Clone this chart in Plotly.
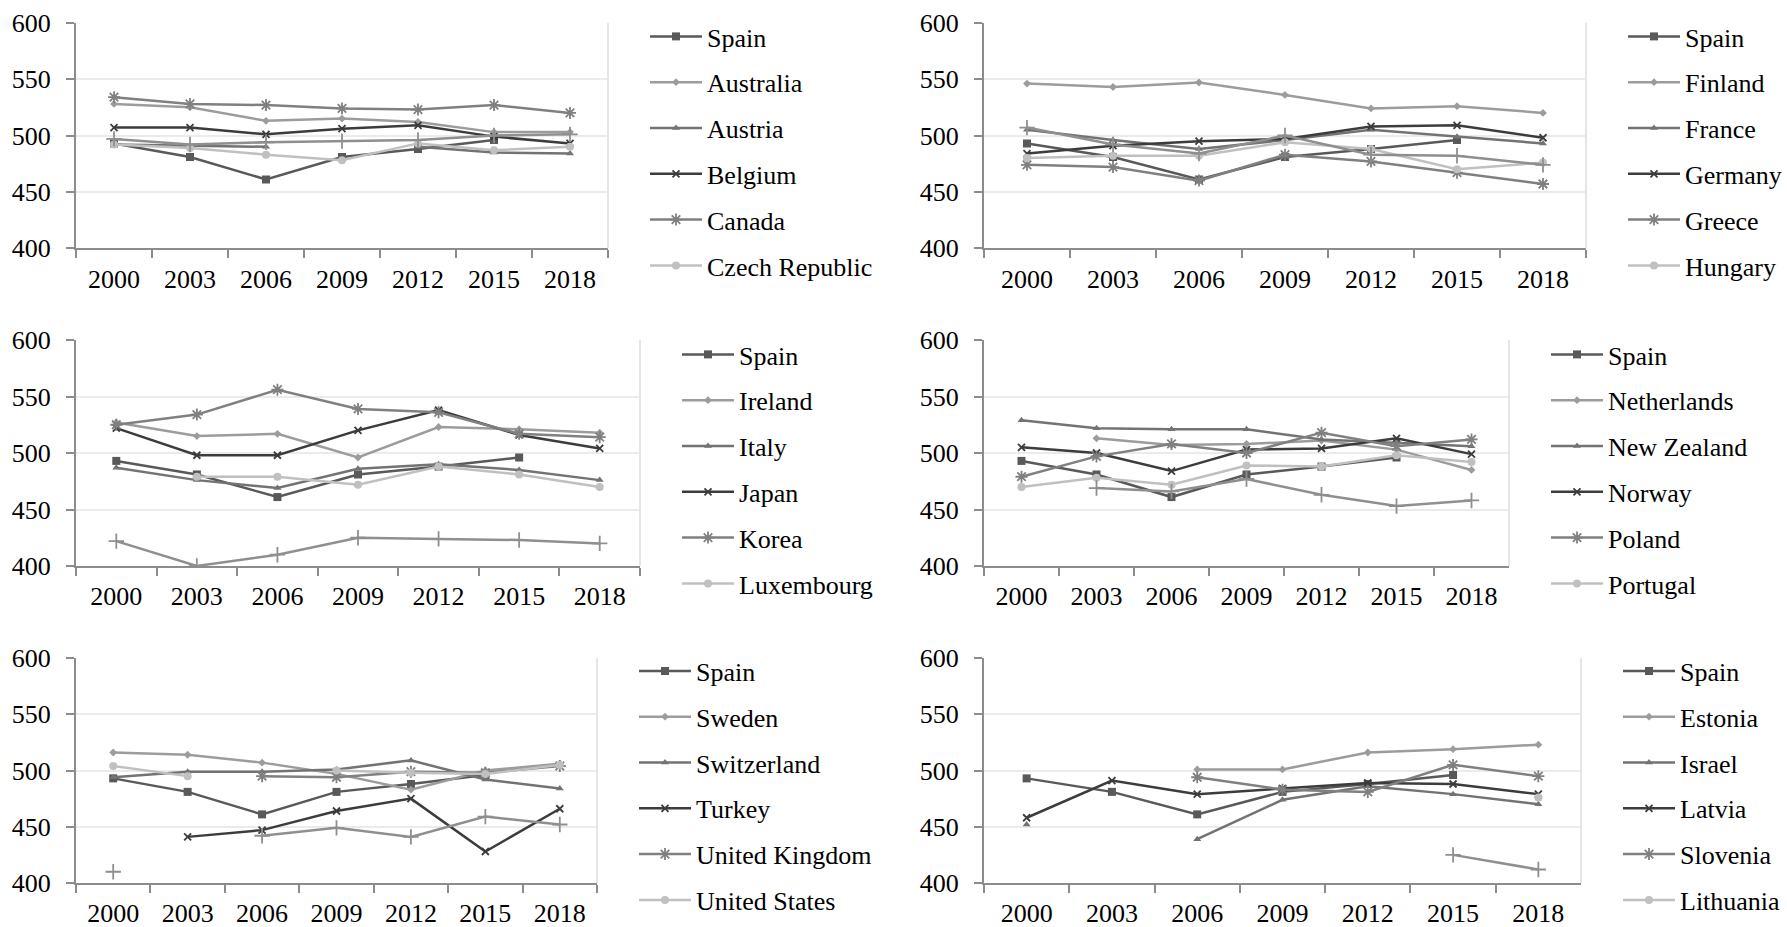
import plotly.graph_objects as go

# ---------------- data ----------------
years = ["2000", "2003", "2006", "2009", "2012", "2015", "2018"]

spain = [493, 481, 461, 481, 488, 496, None]

# panel 1
australia = [528, 525, 513, 515, 512, 503, 503]
austria = [492, 491, 490, None, 490, 485, 484]
belgium = [507, 507, 501, 506, 509, 499, 493]
canada = [534, 528, 527, 524, 523, 527, 520]
czech = [492, 489, 483, 478, 493, 487, 490]
denmark = [497, 492, 494, 495, 496, 500, 501]

# panel 2
finland = [546, 543, 547, 536, 524, 526, 520]
france = [505, 496, 488, 496, 505, 499, 493]
germany = [484, 491, 495, 497, 508, 509, 498]
greece = [474, 472, 460, 483, 477, 467, 457]
hungary = [480, 482, 482, 494, 488, 470, 476]
iceland = [507, 492, 484, 500, 483, 482, 474]

# panel 3
ireland = [527, 515, 517, 496, 523, 521, 518]
italy = [487, 476, 469, 486, 490, 485, 476]
japan = [522, 498, 498, 520, 538, 516, 504]
korea = [525, 534, 556, 539, 536, 517, 514]
luxembourg = [None, 479, 479, 472, 488, 481, 470]
mexico = [422, 400, 410, 425, 424, 423, 420]

# panel 4
netherlands = [None, 513, 507, 508, 511, 503, 485]
new_zealand = [529, 522, 521, 521, 512, 509, 506]
norway = [505, 500, 484, 503, 504, 513, 499]
poland = [479, 497, 508, 500, 518, 506, 512]
portugal = [470, 478, 472, 489, 488, 498, 492]
slovakia = [None, 469, 466, 477, 463, 453, 458]

# panel 5
sweden = [516, 514, 507, 497, 483, 500, 506]
switzerland = [494, 499, 499, 501, 509, 492, 484]
turkey = [None, 441, 447, 464, 475, 428, 466]
united_kingdom = [None, None, 495, 494, 499, 498, 504]
united_states = [504, 495, None, 500, 498, 497, 505]
chile = [410, None, 442, 449, 441, 459, 452]

# panel 6
estonia = [None, None, 501, 501, 516, 519, 523]
israel = [452, None, 439, 474, 486, 479, 470]
latvia = [458, 491, 479, 484, 489, 488, 479]
slovenia = [None, None, 494, 483, 481, 505, 495]
lithuania = [None, None, None, None, None, None, 476]
colombia = [None, None, None, None, None, 425, 412]

panels = [
    [("Spain", spain), ("Australia", australia), ("Austria", austria),
     ("Belgium", belgium), ("Canada", canada), ("Czech Republic", czech),
     ("Denmark", denmark)],
    [("Spain", spain), ("Finland", finland), ("France", france),
     ("Germany", germany), ("Greece", greece), ("Hungary", hungary),
     ("Iceland", iceland)],
    [("Spain", spain), ("Ireland", ireland), ("Italy", italy),
     ("Japan", japan), ("Korea", korea), ("Luxembourg", luxembourg),
     ("Mexico", mexico)],
    [("Spain", spain), ("Netherlands", netherlands), ("New Zealand", new_zealand),
     ("Norway", norway), ("Poland", poland), ("Portugal", portugal),
     ("Slovak Republic", slovakia)],
    [("Spain", spain), ("Sweden", sweden), ("Switzerland", switzerland),
     ("Turkey", turkey), ("United Kingdom", united_kingdom),
     ("United States", united_states), ("Chile", chile)],
    [("Spain", spain), ("Estonia", estonia), ("Israel", israel),
     ("Latvia", latvia), ("Slovenia", slovenia), ("Lithuania", lithuania),
     ("Colombia", colombia)],
]

# ---------------- styles ----------------
W, H = 1787, 927
colors = ["#595959", "#9c9c9c", "#737373", "#3c3c3c", "#808080", "#c0c0c0", "#8f8f8f"]
symbols = ["square", "diamond", "triangle-up", "x-thin-open", "asterisk-open",
           "circle", "cross-thin-open"]
msizes = [8, 6, 7, 7, 10, 8, 11]
FONT = "Liberation Serif, Times New Roman, serif"

# plot areas in pixels: (left, right, top, bottom)
boxes = [
    (76, 608, 22.7, 248.3),
    (984, 1586, 22.7, 248.3),
    (76, 640, 340, 566),
    (984, 1509, 340, 566),
    (76, 597, 658, 883),
    (984, 1581, 658, 883),
]
legend_top_item = [39, 39, 357, 357, 673.5, 673.5]
ITEMW = 52

fig = go.Figure()
layout = dict(
    width=W, height=H,
    margin=dict(l=0, r=0, t=0, b=0, autoexpand=False),
    paper_bgcolor="white", plot_bgcolor="white",
    font=dict(family=FONT, size=26, color="black"),
    shapes=[],
)

for p, (series, box) in enumerate(zip(panels, boxes)):
    n = p + 1
    xa = "x" if n == 1 else f"x{n}"
    ya = "y" if n == 1 else f"y{n}"
    lg = "legend" if n == 1 else f"legend{n}"
    for k, (name, vals) in enumerate(series):
        fig.add_trace(go.Scatter(
            x=years, y=vals, name=name, mode="lines+markers",
            xaxis=xa, yaxis=ya, legend=lg,
            legendgroup=f"p{n}_{k}",
            showlegend=(k < 6),
            line=dict(color=colors[k], width=2.5),
            marker=dict(symbol=symbols[k], size=msizes[k], color=colors[k],
                        line=dict(color=colors[k], width=1.8 if k >= 3 and k != 5 else 0)),
        ))
    l, r, t, b = box
    xkey = "xaxis" if n == 1 else f"xaxis{n}"
    ykey = "yaxis" if n == 1 else f"yaxis{n}"
    layout[xkey] = dict(
        domain=[l / W, r / W], anchor=ya, type="category",
        categoryorder="array", categoryarray=years, range=[-0.5, 6.5],
        showline=True, linecolor="#8c8c8c", linewidth=2,
        ticks="outside", tickson="boundaries", ticklen=8, tickwidth=2,
        tickcolor="#8c8c8c", showgrid=False, ticklabelstandoff=6,
        tickfont=dict(family=FONT, size=26, color="black"), fixedrange=True,
    )
    layout[ykey] = dict(
        domain=[1 - b / H, 1 - t / H], anchor=xa, range=[400, 600],
        tickvals=[400, 450, 500, 550, 600],
        showline=True, linecolor="#8c8c8c", linewidth=2,
        ticks="outside", ticklen=8, tickwidth=2, tickcolor="#8c8c8c",
        showgrid=True, gridcolor="#ebebeb", gridwidth=2, zeroline=False,
        ticklabelstandoff=10,
        tickfont=dict(family=FONT, size=26, color="black"), fixedrange=True,
    )
    layout["shapes"].append(dict(
        type="line", xref=f"{xa} domain", yref=f"{ya} domain",
        x0=1, x1=1, y0=0, y1=1, line=dict(color="#e6e6e6", width=2),
    ))
    text_x = r + 99
    top_item = legend_top_item[p]
    layout[lg] = dict(
        x=(text_x - ITEMW - 10) / W, xanchor="left",
        y=1 - (top_item - 26) / H, yanchor="top",
        bgcolor="rgba(0,0,0,0)", borderwidth=0,
        traceorder="grouped", tracegroupgap=9, itemwidth=ITEMW,
        font=dict(family=FONT, size=26, color="black"),
    )

fig.update_layout(**layout)
fig.write_html(
    "out.html",
    config={"displayModeBar": False},
    post_script="document.body.style.margin='0';document.body.style.overflow='hidden';",
)
